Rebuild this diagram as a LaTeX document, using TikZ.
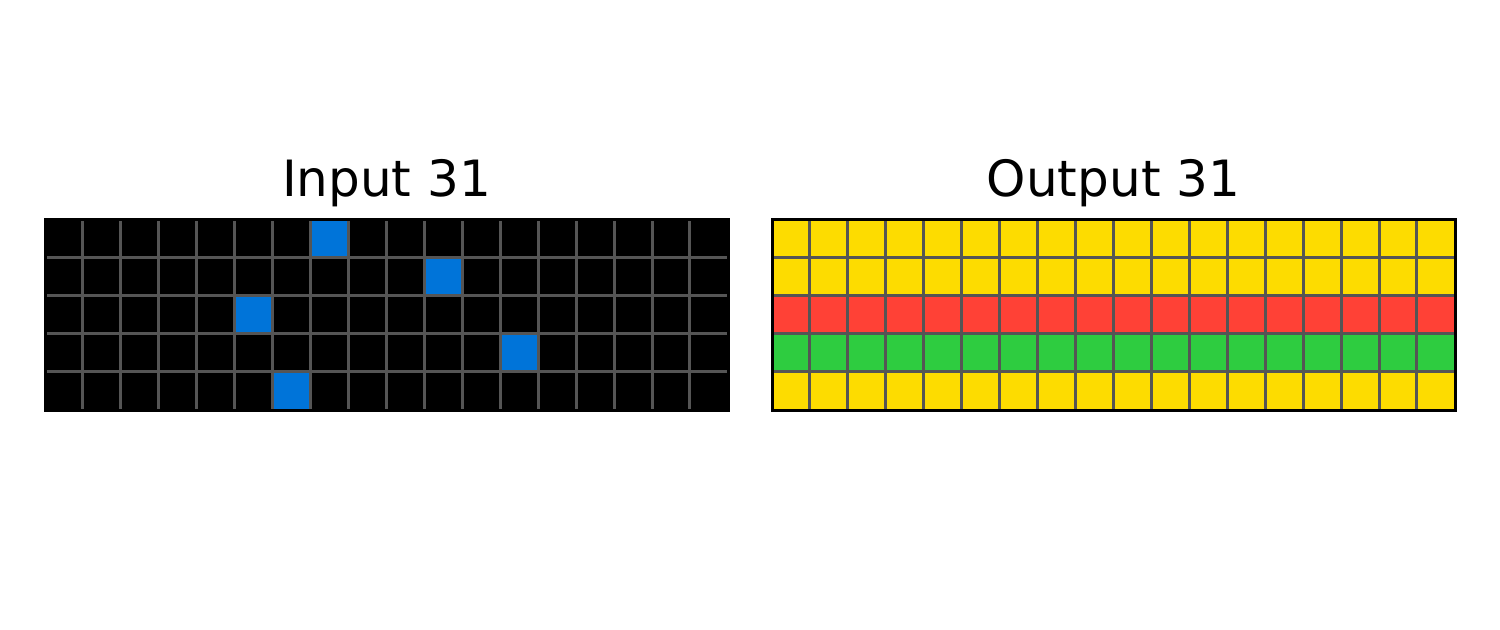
\documentclass[tikz,border=0pt]{standalone}
\usepackage{fontspec}
\setmainfont{DejaVu Sans}
\definecolor{arcblue}{HTML}{0074D9}
\definecolor{arcred}{HTML}{FF4136}
\definecolor{arcgreen}{HTML}{2ECC40}
\definecolor{arcyellow}{HTML}{FDDC00}
\definecolor{gridgray}{HTML}{555555}
\tikzset{
  gridline/.style={draw=gridgray,line width=1.5pt},
  gridframe/.style={draw=black,line width=1.5pt},
  gridtitle/.style={anchor=base,font=\fontsize{25}{29}\selectfont}
}
\begin{document}
\begin{tikzpicture}[x=0.5pt,y=0.5pt]
    \useasboundingbox (0,0) rectangle (1500,629);
    \def\cw{37.94}
    \def\ch{38.2}

    % Input grid
    \node[gridtitle] (intitle) at (386.5,433) {Input 31};
    \fill[black] (45,219) rectangle (728,410);
    \foreach \c/\r in {7/0,10/1,5/2,12/3,6/4}
        \fill[arcblue] (45+\c*\cw,410-\r*\ch-\ch) rectangle ++(\cw,\ch);
    \foreach \i in {1,...,17}
        \draw[gridline] (45+\i*\cw,219) -- ++(0,191);
    \foreach \j in {1,...,4}
        \draw[gridline] (45,219+\j*\ch) -- ++(683,0);
    \draw[gridframe] (45,219) rectangle (728,410);

    % Output grid
    \node[gridtitle] (outtitle) at (1113.5,433) {Output 31};
    \foreach \r/\col in {0/arcyellow,1/arcyellow,2/arcred,3/arcgreen,4/arcyellow}
        \fill[\col] (772,410-\r*\ch-\ch) rectangle ++(683,\ch);
    \foreach \i in {1,...,17}
        \draw[gridline] (772+\i*\cw,219) -- ++(0,191);
    \foreach \j in {1,...,4}
        \draw[gridline] (772,219+\j*\ch) -- ++(683,0);
    \draw[gridframe] (772,219) rectangle (1455,410);
\end{tikzpicture}
\end{document}
